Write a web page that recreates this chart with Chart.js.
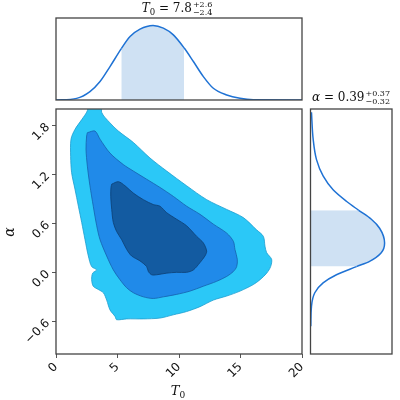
<!DOCTYPE html>
<html>
<head>
<meta charset="utf-8">
<script src="https://cdn.jsdelivr.net/npm/chart.js@4.4.1/dist/chart.umd.min.js"></script>
<style>
  body { margin: 0; background: #fff; }
  #wrap { position: relative; width: 400px; height: 400px; }
  canvas { position: absolute; }
</style>
</head>
<body>
<div id="wrap">
  <canvas id="topChart" width="306" height="104" style="left:0;top:0"></canvas>
  <canvas id="mainChart" width="306" height="295" style="left:0;top:105px"></canvas>
  <canvas id="sideChart" width="94" height="280" style="left:306px;top:80px"></canvas>
</div>
<script>
const xTicks = [0, 5, 10, 15, 20];
const yTicks = [-0.6, 0.0, 0.6, 1.2, 1.8];

// contour outlines, (T0, alpha) pairs
const innerT0 = [4.53, 5.07, 5.61, 6.29, 7.10, 7.91, 8.45, 9.00, 9.81, 10.62, 11.44, 11.98, 12.25, 12.11, 11.71, 11.17, 10.62, 9.81, 9.00, 8.18, 7.78, 7.51, 7.37, 6.83, 6.15, 5.75, 5.34, 4.93, 4.66, 4.53, 4.45, 4.47, 4.53];
const innerAlpha = [1.08, 1.11, 1.06, 0.97, 0.89, 0.83, 0.81, 0.73, 0.65, 0.57, 0.44, 0.36, 0.26, 0.20, 0.12, 0.03, 0.00, 0.00, -0.01, -0.03, -0.03, 0.01, 0.07, 0.14, 0.20, 0.28, 0.40, 0.50, 0.61, 0.77, 0.93, 1.04, 1.08];
const midT0 = [2.55, 3.17, 3.58, 4.39, 5.47, 6.29, 7.37, 8.45, 9.54, 10.62, 11.71, 12.79, 13.88, 14.42, 14.55, 14.74, 14.69, 14.42, 13.88, 13.06, 11.98, 10.89, 9.81, 8.73, 7.91, 7.10, 6.29, 5.75, 5.20, 4.66, 4.12, 3.58, 3.31, 3.03, 2.76, 2.55, 2.44, 2.49, 2.55];
const midAlpha = [1.71, 1.73, 1.63, 1.46, 1.32, 1.24, 1.14, 1.04, 0.93, 0.81, 0.71, 0.59, 0.48, 0.38, 0.28, 0.16, 0.07, 0.01, -0.05, -0.11, -0.17, -0.23, -0.27, -0.30, -0.32, -0.30, -0.25, -0.19, -0.09, 0.03, 0.20, 0.40, 0.57, 0.81, 1.06, 1.30, 1.51, 1.67, 1.71];
const outerT0 = [2.62, 3.78, 3.71, 4.39, 5.07, 6.29, 7.64, 9.00, 10.62, 12.25, 13.88, 15.23, 16.31, 16.86, 16.99, 17.13, 17.53, 17.45, 17.13, 16.59, 16.04, 14.96, 13.88, 12.79, 11.71, 10.62, 9.54, 8.45, 7.10, 5.75, 4.93, 4.80, 4.39, 4.12, 3.85, 3.44, 3.03, 2.90, 2.98, 3.31, 2.90, 2.63, 2.36, 2.09, 1.82, 1.54, 1.27, 1.19, 1.22, 1.54, 2.09, 2.55, 2.62];
const outerAlpha = [2.10, 2.10, 1.96, 1.83, 1.73, 1.59, 1.40, 1.24, 1.06, 0.89, 0.77, 0.67, 0.52, 0.44, 0.32, 0.24, 0.16, 0.07, -0.01, -0.09, -0.15, -0.23, -0.29, -0.34, -0.42, -0.48, -0.52, -0.56, -0.57, -0.57, -0.58, -0.54, -0.46, -0.34, -0.25, -0.21, -0.17, -0.09, -0.01, 0.03, 0.07, 0.20, 0.40, 0.61, 0.81, 1.02, 1.22, 1.42, 1.63, 1.75, 1.87, 1.98, 2.10];

// marginal densities (peak scaled to 1)
const t0Grid = [0, 1.68, 2.76, 3.58, 4.39, 5.31, 6.02, 6.83, 7.89, 8.73, 9.54, 10.41, 11.17, 11.98, 12.79, 13.88, 14.96, 16.04, 20];
const t0Density = [0, 0.022, 0.112, 0.247, 0.448, 0.69, 0.852, 0.951, 1.0, 0.964, 0.874, 0.70, 0.516, 0.314, 0.157, 0.067, 0.022, 0.003, 0];
const t0Band = [5.31, 10.41];

const alphaGrid = [-0.66, -0.42, -0.25, -0.13, -0.03, 0.07, 0.135, 0.24, 0.36, 0.54, 0.65, 0.76, 0.87, 1.01, 1.18, 1.38, 1.63, 1.96];
const alphaDensity = [0.004, 0.013, 0.058, 0.17, 0.35, 0.62, 0.798, 0.955, 1.0, 0.933, 0.821, 0.65, 0.484, 0.305, 0.17, 0.081, 0.036, 0.013];
const alphaBand = [0.07, 0.76];

const pts = (xs, ys) => xs.map((x, i) => ({x: x, y: ys[i]}));
const lineBlue = "#1f72d4";
const shade = "#cfe1f3";

const frame = {
    id: "frame",
    afterDatasetsDraw(chart) {
        const {ctx, chartArea: a} = chart;
        ctx.save();
        ctx.strokeStyle = "#444";
        ctx.lineWidth = 1.3;
        ctx.strokeRect(a.left, a.top, a.right - a.left, a.bottom - a.top);
        ctx.restore();
    },
};

// rotated tick labels would otherwise push the plot area inwards
const noPad = s => { s.paddingLeft = s.paddingRight = s.paddingTop = s.paddingBottom = 0; };

// small mathtext-like writer: parts are {t, size, italic, dy} or {sup, sub}
function drawMath(ctx, cx, baseY, parts) {
    const fontOf = (size, italic) => (italic ? "italic " : "") + size + "px 'DejaVu Serif'";
    let w = 0;
    parts.forEach(p => {
        if (p.sup !== undefined) {
            ctx.font = fontOf(8, false);
            p.w = Math.max(ctx.measureText(p.sup).width, ctx.measureText(p.sub).width) + 1;
        } else {
            ctx.font = fontOf(p.size, p.italic);
            p.w = ctx.measureText(p.t).width;
        }
        w += p.w;
    });
    let x = cx - w / 2;
    ctx.save();
    ctx.fillStyle = "#111";
    ctx.textBaseline = "alphabetic";
    ctx.textAlign = "left";
    parts.forEach(p => {
        if (p.sup !== undefined) {
            ctx.font = fontOf(8, false);
            ctx.fillText(p.sup, x + 1, baseY - 5);
            ctx.fillText(p.sub, x + 1, baseY + 3);
        } else {
            ctx.font = fontOf(p.size, p.italic);
            ctx.fillText(p.t, x, baseY + (p.dy || 0));
        }
        x += p.w;
    });
    ctx.restore();
}

new Chart(document.getElementById("topChart").getContext("2d"), {
    type: "scatter",
    data: {
        datasets: [
            {
                data: pts(t0Grid, t0Density),
                showLine: true,
                borderColor: lineBlue,
                borderWidth: 1.5,
                pointRadius: 0,
                cubicInterpolationMode: "monotone",
                fill: "origin",
                backgroundColor: "rgba(0,0,0,0)",
                segment: {
                    backgroundColor: c => (c.p0.parsed.x >= t0Band[0] - 1e-6 && c.p1.parsed.x <= t0Band[1] + 1e-6) ? shade : "rgba(0,0,0,0)",
                },
            },
        ],
    },
    options: {
        responsive: false,
        animation: false,
        layout: { padding: { left: 56, right: 4, top: 18, bottom: 4 } },
        plugins: { legend: { display: false }, tooltip: { enabled: false } },
        scales: {
            x: { type: "linear", min: 0, max: 20, display: false },
            y: { type: "linear", min: 0, max: 1.1, display: false },
        },
    },
    plugins: [frame, {
        id: "title",
        afterDraw(chart) {
            drawMath(chart.ctx, 177, 12, [
                {t: "T", size: 12, italic: true},
                {t: "0", size: 8.5, dy: 2.5},
                {t: " = 7.8", size: 12},
                {sup: "+2.6", sub: "\u22122.4"},
            ]);
        },
    }],
});

new Chart(document.getElementById("mainChart").getContext("2d"), {
    type: "scatter",
    data: {
        datasets: [
            { data: pts(innerT0, innerAlpha), backgroundColor: "#135ba1", borderColor: "#0c3f72" },
            { data: pts(midT0, midAlpha), backgroundColor: "#208ae9", borderColor: "#1561ad" },
            { data: pts(outerT0, outerAlpha), backgroundColor: "#2bc8f7", borderColor: "#1a9dcf" },
        ].map(d => Object.assign(d, { showLine: true, fill: "shape", borderWidth: 0.8, pointRadius: 0, tension: 0.3 })),
    },
    options: {
        responsive: false,
        animation: false,
        layout: { padding: { top: 4, right: 4 } },
        plugins: { legend: { display: false }, tooltip: { enabled: false } },
        scales: {
            x: {
                type: "linear",
                min: 0,
                max: 20,
                afterBuildTicks: s => { s.ticks = xTicks.map(v => ({ value: v })); },
                afterFit: s => { s.height = 46; noPad(s); },
                grid: { drawOnChartArea: false, tickLength: 4, color: "#555" },
                border: { display: false },
                ticks: {
                    minRotation: 45,
                    maxRotation: 45,
                    padding: 2,
                    color: "#111",
                    font: { family: "DejaVu Sans", size: 12 },
                },
            },
            y: {
                type: "linear",
                min: -1,
                max: 2,
                afterBuildTicks: s => { s.ticks = yTicks.map(v => ({ value: v })); },
                afterFit: s => { s.width = 56; noPad(s); },
                grid: { drawOnChartArea: false, tickLength: 4, color: "#555" },
                border: { display: false },
                ticks: {
                    minRotation: 45,
                    maxRotation: 45,
                    padding: 4,
                    color: "#111",
                    font: { family: "DejaVu Sans", size: 12 },
                    callback: v => v.toFixed(1).replace("-", "\u2212"),
                },
            },
        },
    },
    plugins: [frame, {
        id: "axisTitles",
        afterDraw(chart) {
            const ctx = chart.ctx;
            drawMath(ctx, 178, 290, [
                {t: "T", size: 13, italic: true},
                {t: "0", size: 9, dy: 3},
            ]);
            ctx.save();
            ctx.translate(14, 127);
            ctx.rotate(-Math.PI / 2);
            drawMath(ctx, 0, 0, [{t: "\u03b1", size: 14, italic: true}]);
            ctx.restore();
        },
    }],
});

new Chart(document.getElementById("sideChart").getContext("2d"), {
    type: "scatter",
    data: {
        datasets: [
            {
                data: pts(alphaDensity, alphaGrid),
                showLine: true,
                borderColor: lineBlue,
                borderWidth: 1.5,
                pointRadius: 0,
                cubicInterpolationMode: "monotone",
                fill: "origin",
                backgroundColor: "rgba(0,0,0,0)",
                segment: {
                    backgroundColor: c => (c.p0.parsed.y >= alphaBand[0] - 1e-6 && c.p1.parsed.y <= alphaBand[1] + 1e-6) ? shade : "rgba(0,0,0,0)",
                },
            },
        ],
    },
    options: {
        responsive: false,
        animation: false,
        indexAxis: "y",
        layout: { padding: { left: 4.5, right: 8, top: 29, bottom: 6 } },
        plugins: { legend: { display: false }, tooltip: { enabled: false } },
        scales: {
            x: { type: "linear", min: 0, max: 1.1, display: false },
            y: { type: "linear", min: -1, max: 2, display: false },
        },
    },
    plugins: [frame, {
        id: "title",
        afterDraw(chart) {
            drawMath(chart.ctx, 45, 21, [
                {t: "\u03b1", size: 12, italic: true},
                {t: " = 0.39", size: 12},
                {sup: "+0.37", sub: "\u22120.32"},
            ]);
        },
    }],
});
</script>
</body>
</html>
